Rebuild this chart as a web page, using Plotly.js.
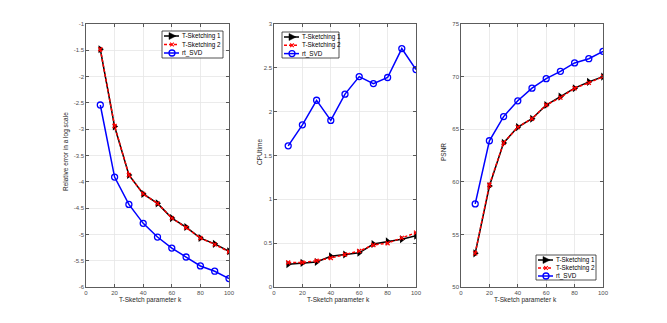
<!DOCTYPE html>
<html>
<head>
<meta charset="utf-8">
<script src="https://cdn.plot.ly/plotly-3.0.1.min.js"></script>
<style>
  html, body { margin: 0; padding: 0; background: #fff; }
  #chart { width: 667px; height: 323px; }
</style>
</head>
<body>
<div id="chart"></div>
<script>
const k = [10, 20, 30, 40, 50, 60, 70, 80, 90, 100];
const seriesNames = ['T-Sketching 1', 'T-Sketching 2', 'rt_SVD'];

// relative error (log scale)
const errTS1 = [-1.48, -2.95, -3.87, -4.23, -4.41, -4.69, -4.86, -5.07, -5.18, -5.32];
const errTS2 = [-1.48, -2.94, -3.87, -4.23, -4.41, -4.69, -4.87, -5.07, -5.19, -5.33];
const errSVD = [-2.54, -3.91, -4.43, -4.79, -5.05, -5.26, -5.43, -5.60, -5.70, -5.84];

// CPU time
const cpuTS1 = [0.26, 0.275, 0.285, 0.35, 0.37, 0.39, 0.49, 0.52, 0.545, 0.585];
const cpuTS2 = [0.28, 0.28, 0.30, 0.33, 0.37, 0.41, 0.48, 0.50, 0.56, 0.62];
const cpuSVD = [1.61, 1.85, 2.13, 1.90, 2.20, 2.40, 2.32, 2.39, 2.72, 2.48];

// PSNR
const psnrTS1 = [53.2, 59.6, 63.7, 65.2, 66.0, 67.3, 68.1, 68.9, 69.5, 70.0];
const psnrTS2 = [53.2, 59.7, 63.7, 65.2, 66.0, 67.3, 68.0, 68.9, 69.4, 70.0];
const psnrSVD = [57.9, 63.9, 66.2, 67.7, 68.9, 69.8, 70.5, 71.3, 71.7, 72.4];

const xTicks = [0, 20, 40, 60, 80, 100];
const errTicks = [-1, -1.5, -2, -2.5, -3, -3.5, -4, -4.5, -5, -5.5, -6];
const cpuTicks = [0, 0.5, 1, 1.5, 2, 2.5, 3];
const psnrTicks = [50, 55, 60, 65, 70, 75];
const xTitle = 'T-Sketch parameter k';
const yTitles = ['Relative error in a log scale', 'CPUtime', 'PSNR'];

const W = 667, H = 323;
const px = x => x / W;
const py = y => 1 - y / H;

const styles = [
  { line: { color: '#000000', width: 1.5 },
    marker: { symbol: 'triangle-right', size: 7, color: '#000000' } },
  { line: { color: '#ff0000', width: 1.5, dash: '3px,2px' },
    marker: { symbol: 'x-thin-open', size: 4, color: '#ff0000', line: { width: 1.3, color: '#ff0000' } } },
  { line: { color: '#0000ff', width: 1.5 },
    marker: { symbol: 'circle-open', size: 6, color: '#0000ff', line: { width: 1.3 } } }
];

function makeTraces(ys, n) {
  const xa = n === 1 ? 'x' : 'x' + n;
  const ya = n === 1 ? 'y' : 'y' + n;
  return ys.map((y, i) => ({
    x: k, y: y, xaxis: xa, yaxis: ya,
    type: 'scatter', mode: 'lines+markers',
    name: seriesNames[i],
    line: styles[i].line, marker: styles[i].marker,
    showlegend: false
  }));
}

const data = [
  ...makeTraces([errTS1, errTS2, errSVD], 1),
  ...makeTraces([cpuTS1, cpuTS2, cpuSVD], 2),
  ...makeTraces([psnrTS1, psnrTS2, psnrSVD], 3)
];

const fontFam = 'Liberation Sans, Arial, sans-serif';
const tickFont = { family: fontFam, size: 6, color: '#4d4d4d' };
const titleFont = { family: fontFam, size: 6.5, color: '#262626' };

function xAxis(domain, anchor) {
  return {
    domain: domain, anchor: anchor, range: [0, 100],
    tickvals: xTicks, ticktext: xTicks.map(String),
    showline: true, mirror: 'ticks', linecolor: '#333333', linewidth: 0.8,
    ticks: 'inside', ticklen: 3, tickcolor: '#333333', tickwidth: 0.8,
    showgrid: true, gridcolor: '#e6e6e6', gridwidth: 0.8, zeroline: false,
    tickfont: tickFont
  };
}
function yAxis(range, ticks, anchor) {
  return {
    domain: [py(287), py(24)], anchor: anchor, range: range,
    tickvals: ticks, ticktext: ticks.map(String),
    showline: true, mirror: 'ticks', linecolor: '#333333', linewidth: 0.8,
    ticks: 'inside', ticklen: 3, tickcolor: '#333333', tickwidth: 0.8,
    showgrid: true, gridcolor: '#e6e6e6', gridwidth: 0.8, zeroline: false,
    tickfont: tickFont
  };
}

const shapes = [];
const annotations = [];

// axis titles
const panelX = [[86, 229], [274, 416], [461, 603]];
const yTitleX = [66, 259, 443];
panelX.forEach((p, i) => {
  annotations.push({ xref: 'paper', yref: 'paper', x: px((p[0] + p[1]) / 2 - 7), y: py(300),
    xanchor: 'center', yanchor: 'middle', showarrow: false, text: xTitle, font: titleFont });
  annotations.push({ xref: 'paper', yref: 'paper', x: px(yTitleX[i]), y: py(152),
    xanchor: 'center', yanchor: 'middle', showarrow: false, textangle: -90,
    text: yTitles[i], font: titleFont });
});

// hand-made legends, MATLAB style (box position in pixels)
function addLegend(x0, y0, x1, y1, gap) {
  shapes.push({ type: 'rect', xref: 'paper', yref: 'paper',
    x0: px(x0), x1: px(x1), y0: py(y0), y1: py(y1),
    line: { color: '#262626', width: 0.8 }, fillcolor: '#ffffff', layer: 'above' });
  seriesNames.forEach((name, i) => {
    const yc = y0 + 5 + i * gap;
    const st = styles[i];
    shapes.push({ type: 'line', xref: 'paper', yref: 'paper', layer: 'above',
      x0: px(x0 + 2), x1: px(x0 + 17), y0: py(yc), y1: py(yc),
      line: { color: st.line.color, width: st.line.width, dash: st.line.dash || 'solid' } });
    const mx = px(x0 + 10), my = py(yc);
    const base = { xref: 'paper', yref: 'paper', xsizemode: 'pixel', ysizemode: 'pixel',
      xanchor: mx, yanchor: my, layer: 'above' };
    if (i === 0) {
      shapes.push({ ...base, type: 'path', path: 'M -3 -3.5 L -3 3.5 L 4 0 Z',
        fillcolor: '#000000', line: { color: '#000000', width: 0.5 } });
    } else if (i === 1) {
      shapes.push({ ...base, type: 'path', path: 'M -1.8 -1.8 L 1.8 1.8 M -1.8 1.8 L 1.8 -1.8',
        line: { color: '#ff0000', width: 1.2 } });
    } else {
      shapes.push({ ...base, type: 'circle', x0: -3, x1: 3, y0: -3, y1: 3,
        fillcolor: 'rgba(0,0,0,0)', line: { color: '#0000ff', width: 1.3 } });
    }
    annotations.push({ xref: 'paper', yref: 'paper', x: px(x0 + 18), y: py(yc),
      xanchor: 'left', yanchor: 'middle', showarrow: false, text: name,
      font: { family: fontFam, size: 6.3, color: '#000000' } });
  });
}
addLegend(162, 31, 223, 58, 8.5);
addLegend(282, 32, 339, 58, 8.3);
addLegend(536, 255, 596, 280, 8);

const layout = {
  width: W, height: H,
  margin: { l: 0, r: 0, t: 0, b: 0 },
  paper_bgcolor: '#ffffff', plot_bgcolor: '#ffffff',
  showlegend: false,
  font: tickFont,
  xaxis: xAxis([px(86), px(229)], 'y'),
  yaxis: yAxis([-6, -1], errTicks, 'x'),
  xaxis2: xAxis([px(274), px(416)], 'y2'),
  yaxis2: yAxis([0, 3], cpuTicks, 'x2'),
  xaxis3: xAxis([px(461), px(603)], 'y3'),
  yaxis3: yAxis([50, 75], psnrTicks, 'x3'),
  shapes: shapes,
  annotations: annotations
};

Plotly.newPlot('chart', data, layout, { displayModeBar: false, staticPlot: true });
</script>
</body>
</html>
